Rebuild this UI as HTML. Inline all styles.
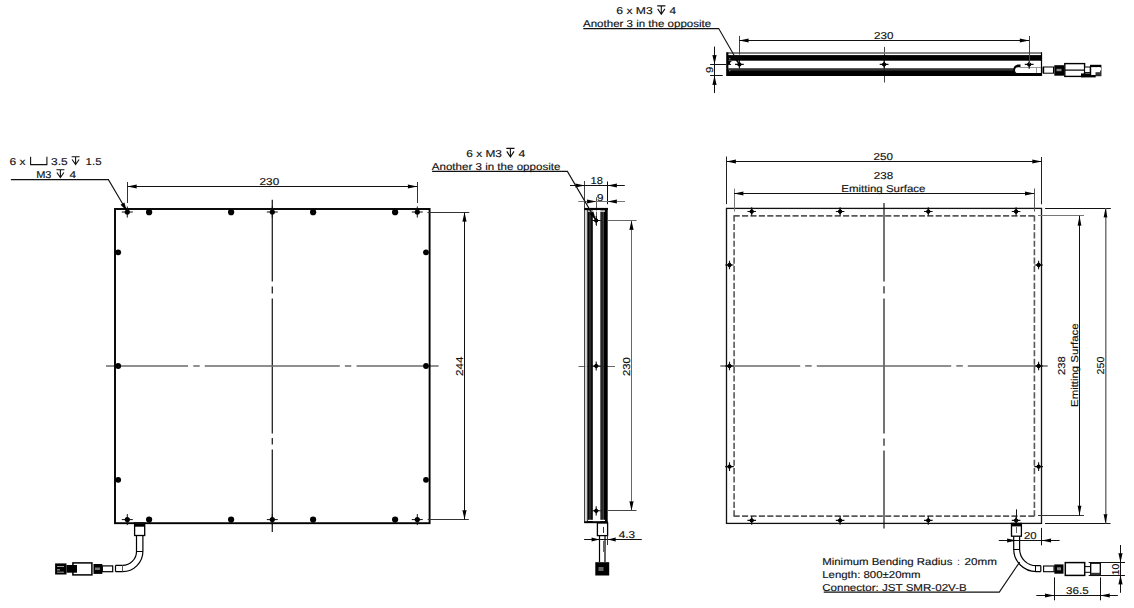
<!DOCTYPE html>
<html><head><meta charset="utf-8"><style>
html,body{margin:0;padding:0;background:#fff;width:1134px;height:608px;overflow:hidden}
svg{display:block}
text{text-rendering:geometricPrecision;font-family:"Liberation Sans",sans-serif;stroke:#111;stroke-width:0.15px}
</style></head><body>
<svg width="1134" height="608" viewBox="0 0 1134 608">
<rect width="1134" height="608" fill="#fff"/>
<line x1="272.3" y1="199.8" x2="272.3" y2="281.4" stroke="#222" stroke-width="1.3" />
<line x1="272.3" y1="286.5" x2="272.3" y2="293.4" stroke="#222" stroke-width="1.3" />
<line x1="272.3" y1="298.6" x2="272.3" y2="433.4" stroke="#222" stroke-width="1.3" />
<line x1="272.3" y1="438.1" x2="272.3" y2="444.5" stroke="#222" stroke-width="1.3" />
<line x1="272.3" y1="449.6" x2="272.3" y2="532" stroke="#222" stroke-width="1.3" />
<line x1="106" y1="366" x2="188.1" y2="366" stroke="#6a6a6a" stroke-width="1.5" />
<line x1="193.3" y1="366" x2="199.7" y2="366" stroke="#6a6a6a" stroke-width="1.5" />
<line x1="204.8" y1="366" x2="339.8" y2="366" stroke="#6a6a6a" stroke-width="1.5" />
<line x1="344.9" y1="366" x2="351.3" y2="366" stroke="#6a6a6a" stroke-width="1.5" />
<line x1="356.5" y1="366" x2="438.6" y2="366" stroke="#6a6a6a" stroke-width="1.5" />
<rect x="115" y="209" width="314.6" height="314.2" fill="none" stroke="#000" stroke-width="1.9" />
<path d="M121.80,212.00 L132.80,212.00 M127.30,206.50 L127.30,217.50" stroke="#111" stroke-width="1.0"/>
<circle cx="127.3" cy="212.0" r="2.6" fill="#000"/>
<path d="M121.80,519.60 L132.80,519.60 M127.30,514.10 L127.30,525.10" stroke="#111" stroke-width="1.0"/>
<circle cx="127.3" cy="519.6" r="2.6" fill="#000"/>
<path d="M266.80,212.00 L277.80,212.00 M272.30,206.50 L272.30,217.50" stroke="#111" stroke-width="1.0"/>
<circle cx="272.3" cy="212.0" r="2.6" fill="#000"/>
<path d="M266.80,519.60 L277.80,519.60 M272.30,514.10 L272.30,525.10" stroke="#111" stroke-width="1.0"/>
<circle cx="272.3" cy="519.6" r="2.6" fill="#000"/>
<path d="M411.80,212.00 L422.80,212.00 M417.30,206.50 L417.30,217.50" stroke="#111" stroke-width="1.0"/>
<circle cx="417.3" cy="212.0" r="2.6" fill="#000"/>
<path d="M411.80,519.60 L422.80,519.60 M417.30,514.10 L417.30,525.10" stroke="#111" stroke-width="1.0"/>
<circle cx="417.3" cy="519.6" r="2.6" fill="#000"/>
<circle cx="149.1" cy="212.2" r="3.1" fill="#000"/>
<circle cx="149.1" cy="212.2" r="0.4" fill="#fff" opacity="0.25"/>
<circle cx="149.1" cy="519.6" r="3.1" fill="#000"/>
<circle cx="231.1" cy="212.2" r="3.1" fill="#000"/>
<circle cx="231.1" cy="212.2" r="0.4" fill="#fff" opacity="0.25"/>
<circle cx="231.1" cy="519.6" r="3.1" fill="#000"/>
<circle cx="313.1" cy="212.2" r="3.1" fill="#000"/>
<circle cx="313.1" cy="212.2" r="0.4" fill="#fff" opacity="0.25"/>
<circle cx="313.1" cy="519.6" r="3.1" fill="#000"/>
<circle cx="395.1" cy="212.2" r="3.1" fill="#000"/>
<circle cx="395.1" cy="212.2" r="0.4" fill="#fff" opacity="0.25"/>
<circle cx="395.1" cy="519.6" r="3.1" fill="#000"/>
<circle cx="118.2" cy="252.3" r="2.9" fill="#000"/>
<circle cx="118.2" cy="252.3" r="0.4" fill="#fff" opacity="0.25"/>
<circle cx="426" cy="252.3" r="2.9" fill="#000"/>
<circle cx="426" cy="252.3" r="0.4" fill="#fff" opacity="0.25"/>
<circle cx="118.2" cy="366" r="2.9" fill="#000"/>
<circle cx="118.2" cy="366" r="0.4" fill="#fff" opacity="0.25"/>
<circle cx="426" cy="366" r="2.9" fill="#000"/>
<circle cx="426" cy="366" r="0.4" fill="#fff" opacity="0.25"/>
<circle cx="118.2" cy="479.8" r="2.9" fill="#000"/>
<circle cx="118.2" cy="479.8" r="0.4" fill="#fff" opacity="0.25"/>
<circle cx="426" cy="479.8" r="2.9" fill="#000"/>
<circle cx="426" cy="479.8" r="0.4" fill="#fff" opacity="0.25"/>
<line x1="127.5" y1="182" x2="127.5" y2="203" stroke="#333" stroke-width="1.0" />
<line x1="417.5" y1="182" x2="417.5" y2="203" stroke="#333" stroke-width="1.0" />
<line x1="127.3" y1="186.5" x2="417.3" y2="186.5" stroke="#111" stroke-width="1.0" />
<path d="M127.30,186.50 L136.80,184.40 L136.51,186.50 L136.80,188.60Z" fill="#000"/>
<path d="M417.30,186.50 L407.80,184.40 L408.09,186.50 L407.80,188.60Z" fill="#000"/>
<text x="259.6" y="185.1" font-size="10.0" text-anchor="start" fill="#111" textLength="19.6" lengthAdjust="spacingAndGlyphs">230</text>
<line x1="427.5" y1="212.5" x2="469.3" y2="212.5" stroke="#333" stroke-width="1.0" />
<line x1="427.7" y1="519.5" x2="468.8" y2="519.5" stroke="#333" stroke-width="1.0" />
<line x1="464.5" y1="212.3" x2="464.5" y2="519.6" stroke="#111" stroke-width="1.0" />
<path d="M464.50,212.30 L462.40,221.80 L464.50,221.52 L466.60,221.80Z" fill="#000"/>
<path d="M464.50,519.60 L462.40,510.10 L464.50,510.39 L466.60,510.10Z" fill="#000"/>
<text x="463.0" y="366.3" font-size="10.0" text-anchor="middle" fill="#111" textLength="19.4" lengthAdjust="spacingAndGlyphs" transform="rotate(-90 463.0 366.3)">244</text>
<path d="M10.9,179.6 L108.4,179.6 L126.3,210" stroke="#111" stroke-width="1.1" fill="none"/>
<path d="M127.00,211.30 L120.55,204.65 L124.34,202.42 Z" fill="#000"/>
<text x="9.6" y="164.8" font-size="10.0" text-anchor="start" fill="#111" textLength="16.0" lengthAdjust="spacingAndGlyphs">6 x</text>
<path d="M30.6,156.7 L30.6,164.6 L46.9,164.6 L46.9,156.7" stroke="#111" stroke-width="1.1" fill="none"/>
<text x="51.0" y="164.8" font-size="10.0" text-anchor="start" fill="#111" textLength="16.6" lengthAdjust="spacingAndGlyphs">3.5</text>
<path d="M71.6,156.8 L79.6,156.8 M75.6,156.8 L75.6,164.60000000000002 M72.1,159.53 L75.6,164.60000000000002 L79.1,159.53" stroke="#111" stroke-width="1.1" fill="none"/>
<text x="85.6" y="164.8" font-size="10.0" text-anchor="start" fill="#111" textLength="16.0" lengthAdjust="spacingAndGlyphs">1.5</text>
<text x="36.2" y="177.7" font-size="10.0" text-anchor="start" fill="#111" textLength="15.3" lengthAdjust="spacingAndGlyphs">M3</text>
<path d="M56.4,169.8 L64.4,169.8 M60.4,169.8 L60.4,177.60000000000002 M56.9,172.53 L60.4,177.60000000000002 L63.900000000000006,172.53" stroke="#111" stroke-width="1.1" fill="none"/>
<text x="69.6" y="177.7" font-size="10.0" text-anchor="start" fill="#111" textLength="6.6" lengthAdjust="spacingAndGlyphs">4</text>
<rect x="134.6" y="523" width="10.1" height="12.5" fill="#fff" stroke="#000" stroke-width="1.3" />
<rect x="134.6" y="523.2" width="10.1" height="3.5" fill="#000" stroke="none" stroke-width="0" />
<path d="M136.5,535.5 L136.5,551 A14,14 0 0 1 122.5,565.4 L115.5,565.4 M142.9,535.5 L142.9,551 A20.4,20.4 0 0 1 122.5,571.6 L115.5,571.6" stroke="#000" stroke-width="1.2" fill="none"/>
<line x1="136.5" y1="551.5" x2="142.9" y2="551.5" stroke="#000" stroke-width="1.0" />
<line x1="122.5" y1="565.4" x2="122.5" y2="571.6" stroke="#555" stroke-width="1.0" />
<line x1="115.5" y1="565.4" x2="115.5" y2="571.6" stroke="#000" stroke-width="1.2" />
<rect x="102.3" y="565.9" width="10.4" height="5.8" fill="#fff" stroke="#000" stroke-width="1.2" />
<rect x="93.5" y="564" width="8.8" height="9.9" fill="#000" stroke="none" stroke-width="0" />
<rect x="95" y="567.5" width="5" height="2.5" fill="#777"/>
<rect x="72.9" y="562.9" width="19" height="12" fill="#fff" stroke="#000" stroke-width="1.5" />
<rect x="55.1" y="563.4" width="11.4" height="11.1" fill="#000" stroke="none" stroke-width="0" />
<rect x="66.5" y="565" width="10.5" height="7.7" fill="#000" stroke="none" stroke-width="0" />
<rect x="57" y="566" width="7" height="1" fill="#999"/><rect x="57" y="569" width="3" height="1.5" fill="#777"/><rect x="57" y="571.5" width="7" height="1.5" fill="#666"/>
<line x1="578.5" y1="366.5" x2="615" y2="366.5" stroke="#666" stroke-width="1.0" />
<line x1="596.5" y1="197.3" x2="596.5" y2="226" stroke="#555" stroke-width="1.0" />
<line x1="584.5" y1="208" x2="584.5" y2="523" stroke="#444" stroke-width="1.0" />
<rect x="585.3" y="210" width="2" height="311" fill="#ccc"/>
<rect x="584.3" y="207.9" width="23.6" height="2.2" fill="#000" stroke="none" stroke-width="0" />
<rect x="587.3" y="210" width="5.5" height="312" fill="#000" stroke="none" stroke-width="0" />
<rect x="588.8" y="212" width="2.5" height="308" fill="#2a2a2a"/>
<rect x="600.3" y="210" width="3.3" height="312" fill="#262626" stroke="none" stroke-width="0" />
<rect x="603.5" y="208" width="4.2" height="315" fill="#000" stroke="none" stroke-width="0" />
<rect x="584.3" y="521.2" width="23.4" height="2.0" fill="#000" stroke="none" stroke-width="0" />
<rect x="588" y="210.5" width="17" height="1.2" fill="#fff"/>
<rect x="588" y="519.8" width="17" height="1.2" fill="#fff"/>
<path d="M591.60,220.50 L600.80,220.50 M596.20,215.90 L596.20,225.10" stroke="#111" stroke-width="1.1"/>
<path d="M593.60,220.50 L596.20,217.90 L598.80,220.50 L596.20,223.10 Z" fill="#000"/>
<circle cx="596.2" cy="220.5" r="1.90" fill="#000"/>
<path d="M591.60,366.00 L600.80,366.00 M596.20,361.40 L596.20,370.60" stroke="#111" stroke-width="1.1"/>
<path d="M593.60,366.00 L596.20,363.40 L598.80,366.00 L596.20,368.60 Z" fill="#000"/>
<circle cx="596.2" cy="366" r="1.90" fill="#000"/>
<path d="M591.60,510.80 L600.80,510.80 M596.20,506.20 L596.20,515.40" stroke="#111" stroke-width="1.1"/>
<path d="M593.60,510.80 L596.20,508.20 L598.80,510.80 L596.20,513.40 Z" fill="#000"/>
<circle cx="596.2" cy="510.8" r="1.90" fill="#000"/>
<line x1="584.5" y1="181" x2="584.5" y2="208" stroke="#444" stroke-width="1.0" />
<line x1="607.5" y1="181.5" x2="607.5" y2="204.2" stroke="#111" stroke-width="1.0" />
<line x1="570" y1="185.5" x2="624.8" y2="185.5" stroke="#111" stroke-width="1.0" />
<path d="M584.80,185.50 L575.30,183.40 L575.58,185.50 L575.30,187.60Z" fill="#000"/>
<path d="M607.50,185.50 L617.00,183.40 L616.72,185.50 L617.00,187.60Z" fill="#000"/>
<text x="590.6" y="183.8" font-size="10.0" text-anchor="start" fill="#111" textLength="12.4" lengthAdjust="spacingAndGlyphs">18</text>
<line x1="578.2" y1="201.5" x2="625" y2="201.5" stroke="#777" stroke-width="1.0" />
<path d="M596.40,201.50 L586.90,199.40 L587.18,201.50 L586.90,203.60Z" fill="#000"/>
<path d="M607.50,201.50 L617.00,199.40 L616.72,201.50 L617.00,203.60Z" fill="#000"/>
<text x="596.8" y="200.7" font-size="10.0" text-anchor="start" fill="#111" textLength="6.8" lengthAdjust="spacingAndGlyphs">9</text>
<line x1="608" y1="220.5" x2="636.6" y2="220.5" stroke="#666" stroke-width="1.0" />
<line x1="608" y1="510.5" x2="636.5" y2="510.5" stroke="#444" stroke-width="1.0" />
<line x1="631.5" y1="220.5" x2="631.5" y2="510.8" stroke="#666" stroke-width="1.0" />
<path d="M631.50,220.50 L629.40,230.00 L631.50,229.72 L633.60,230.00Z" fill="#000"/>
<path d="M631.50,510.80 L629.40,501.30 L631.50,501.59 L633.60,501.30Z" fill="#000"/>
<text x="630.3" y="366.7" font-size="10.0" text-anchor="middle" fill="#111" textLength="18.8" lengthAdjust="spacingAndGlyphs" transform="rotate(-90 630.3 366.7)">230</text>
<path d="M432.1,171.4 L567.4,171.4 L595.6,219.6" stroke="#111" stroke-width="1.1" fill="none"/>
<path d="M596.00,220.30 L589.56,213.64 L593.36,211.42 Z" fill="#000"/>
<text x="466.3" y="157" font-size="10.0" text-anchor="start" fill="#111" textLength="35.6" lengthAdjust="spacingAndGlyphs">6 x M3</text>
<path d="M506.3,148.4 L514.5,148.4 M510.40000000000003,148.4 L510.40000000000003,157.0 M506.8,151.41 L510.40000000000003,157.0 L514.0,151.41" stroke="#111" stroke-width="1.1" fill="none"/>
<text x="518.4" y="157" font-size="10.0" text-anchor="start" fill="#111" textLength="6.8" lengthAdjust="spacingAndGlyphs">4</text>
<text x="431.8" y="170.2" font-size="10.0" text-anchor="start" fill="#111" textLength="128.6" lengthAdjust="spacingAndGlyphs">Another 3 in the opposite</text>
<rect x="597.4" y="523" width="10.2" height="12.6" fill="#fff" stroke="#000" stroke-width="1.3" />
<line x1="603.5" y1="527" x2="603.5" y2="533" stroke="#333" stroke-width="1.0" />
<line x1="599.5" y1="535.6" x2="599.5" y2="562" stroke="#000" stroke-width="1.2" />
<line x1="605" y1="535.6" x2="605" y2="562" stroke="#000" stroke-width="1.2" />
<line x1="603.5" y1="541" x2="603.5" y2="552" stroke="#666" stroke-width="1.0" />
<rect x="595.3" y="562.2" width="13.9" height="13.3" fill="#000" stroke="none" stroke-width="0" />
<rect x="598.5" y="567" width="5" height="4" fill="#666"/>
<line x1="584.1" y1="539.5" x2="641.8" y2="539.5" stroke="#111" stroke-width="1.0" />
<path d="M599.50,539.50 L591.50,537.40 L591.74,539.50 L591.50,541.60Z" fill="#000"/>
<path d="M607.80,539.50 L615.80,537.40 L615.56,539.50 L615.80,541.60Z" fill="#000"/>
<line x1="607.5" y1="535.6" x2="607.5" y2="545" stroke="#333" stroke-width="1.0" />
<text x="618.7" y="537.7" font-size="10.0" text-anchor="start" fill="#111" textLength="16.4" lengthAdjust="spacingAndGlyphs">4.3</text>
<line x1="884.5" y1="46.9" x2="884.5" y2="82.5" stroke="#444" stroke-width="1.0" />
<rect x="728" y="52.1" width="313" height="1.8" fill="#7a7a7a" stroke="none" stroke-width="0" />
<rect x="728" y="55.1" width="313" height="5.6" fill="#000" stroke="none" stroke-width="0" />
<rect x="726.2" y="52.2" width="2.2" height="23.8" fill="#000" stroke="none" stroke-width="0" />
<rect x="1040.9" y="52.2" width="1.2" height="23.6" fill="#000" stroke="none" stroke-width="0" />
<rect x="728" y="68.2" width="286" height="2.2" fill="#333" stroke="none" stroke-width="0" />
<rect x="728" y="70.2" width="286" height="5.8" fill="#000" stroke="none" stroke-width="0" />
<rect x="1014" y="73" width="27.5" height="3" fill="#000" stroke="none" stroke-width="0" />
<path d="M1018,64.6 A5.8,5.8 0 0 0 1018,76 L1018,73.1 A2.95,2.95 0 0 1 1018,67.2 L1020.5,67.2 L1020.5,64.6 Z" fill="#000"/>
<line x1="1020" y1="67.5" x2="1041" y2="67.5" stroke="#999" stroke-width="1.0" />
<line x1="1036.5" y1="68" x2="1036.5" y2="73" stroke="#999" stroke-width="1.0" />
<rect x="729" y="58" width="1.4" height="1.4" fill="#777"/><rect x="729" y="70" width="1.4" height="1.4" fill="#777"/><path d="M728,61 L733,61 A3,3 0 0 0 730,64 L728,64 Z" fill="#000"/><rect x="728" y="64" width="3" height="0.9" fill="#000"/>
<path d="M735.00,64.40 L743.80,64.40 M739.40,60.00 L739.40,68.80" stroke="#111" stroke-width="1.1"/>
<path d="M736.80,64.40 L739.40,61.80 L742.00,64.40 L739.40,67.00 Z" fill="#000"/>
<circle cx="739.4" cy="64.4" r="1.90" fill="#000"/>
<path d="M879.70,64.40 L888.50,64.40 M884.10,60.00 L884.10,68.80" stroke="#111" stroke-width="1.1"/>
<path d="M881.50,64.40 L884.10,61.80 L886.70,64.40 L884.10,67.00 Z" fill="#000"/>
<circle cx="884.1" cy="64.4" r="1.90" fill="#000"/>
<path d="M1024.80,64.40 L1033.60,64.40 M1029.20,60.00 L1029.20,68.80" stroke="#111" stroke-width="1.1"/>
<path d="M1026.60,64.40 L1029.20,61.80 L1031.80,64.40 L1029.20,67.00 Z" fill="#000"/>
<circle cx="1029.2" cy="64.4" r="1.90" fill="#000"/>
<line x1="739.5" y1="35.9" x2="739.5" y2="54.6" stroke="#444" stroke-width="1.0" />
<line x1="1029.5" y1="36" x2="1029.5" y2="64" stroke="#444" stroke-width="1.0" />
<line x1="739.2" y1="40.5" x2="1029.2" y2="40.5" stroke="#111" stroke-width="1.0" />
<path d="M739.20,40.50 L748.70,38.40 L748.42,40.50 L748.70,42.60Z" fill="#000"/>
<path d="M1029.20,40.50 L1019.70,38.40 L1019.99,40.50 L1019.70,42.60Z" fill="#000"/>
<text x="874.1" y="39" font-size="10.0" text-anchor="start" fill="#111" textLength="19.4" lengthAdjust="spacingAndGlyphs">230</text>
<line x1="710.1" y1="64.5" x2="726" y2="64.5" stroke="#111" stroke-width="1.0" />
<line x1="710.1" y1="75.5" x2="722.7" y2="75.5" stroke="#111" stroke-width="1.0" />
<line x1="714.5" y1="46.6" x2="714.5" y2="93.1" stroke="#111" stroke-width="1.0" />
<path d="M714.50,64.40 L712.40,54.90 L714.50,55.19 L716.60,54.90Z" fill="#000"/>
<path d="M714.50,75.50 L712.40,85.00 L714.50,84.72 L716.60,85.00Z" fill="#000"/>
<text x="713.4" y="69.8" font-size="10.0" text-anchor="middle" fill="#111" textLength="6.4" lengthAdjust="spacingAndGlyphs" transform="rotate(-90 713.4 69.8)">9</text>
<path d="M583.3,28.6 L718.7,28.6 L738.8,63.6" stroke="#111" stroke-width="1.1" fill="none"/>
<path d="M739.20,64.30 L732.81,57.59 L736.63,55.40 Z" fill="#000"/>
<text x="616.3" y="14.3" font-size="10.0" text-anchor="start" fill="#111" textLength="36.4" lengthAdjust="spacingAndGlyphs">6 x M3</text>
<path d="M657.2,5.9 L665.4000000000001,5.9 M661.3000000000001,5.9 L661.3000000000001,14.3 M657.7,8.84 L661.3000000000001,14.3 L664.9000000000001,8.84" stroke="#111" stroke-width="1.1" fill="none"/>
<text x="669.6" y="14.3" font-size="10.0" text-anchor="start" fill="#111" textLength="6.6" lengthAdjust="spacingAndGlyphs">4</text>
<text x="583.0" y="27" font-size="10.0" text-anchor="start" fill="#111" textLength="128.2" lengthAdjust="spacingAndGlyphs">Another 3 in the opposite</text>
<rect x="1043.3" y="67" width="10.2" height="6.2" fill="#fff" stroke="#000" stroke-width="1.0" />
<rect x="1042.6" y="66.8" width="1.6" height="6.6" rx="0.8" fill="#000"/>
<rect x="1054.3" y="65.2" width="9.7" height="10.5" fill="#000" stroke="none" stroke-width="0" />
<rect x="1056.5" y="68.8" width="5" height="2.4" fill="#888"/>
<rect x="1064.8" y="63.6" width="19.8" height="12.8" fill="#fff" stroke="#000" stroke-width="1.4" />
<line x1="1064.8" y1="70.1" x2="1084.5" y2="70.1" stroke="#000" stroke-width="1.2" />
<rect x="1084.6" y="67" width="5.6" height="5.6" fill="#fff" stroke="#000" stroke-width="1.0" />
<rect x="1081" y="73.4" width="14.7" height="4.0" fill="#000" stroke="none" stroke-width="0" />
<rect x="1090.6" y="65.4" width="10.2" height="10.2" fill="#fff" stroke="#000" stroke-width="1.2" />
<rect x="1090.6" y="65.2" width="10.4" height="1.9" fill="#000" stroke="none" stroke-width="0" />
<rect x="1095.5" y="72.2" width="5.5" height="3.6" fill="#333" stroke="none" stroke-width="0" />
<rect x="1097.5" y="67.5" width="3.5" height="3" fill="#fff"/>
<path d="M1041.3,55.5 L1041.3,61 M1035,58.2 L1041.5,58.2" stroke="#000" stroke-width="1.5"/>
<line x1="884.0" y1="203" x2="884.0" y2="281.4" stroke="#383838" stroke-width="1.4" />
<line x1="884.0" y1="286.3" x2="884.0" y2="293.4" stroke="#383838" stroke-width="1.4" />
<line x1="884.0" y1="298.4" x2="884.0" y2="433.6" stroke="#383838" stroke-width="1.4" />
<line x1="884.0" y1="438.6" x2="884.0" y2="445.7" stroke="#383838" stroke-width="1.4" />
<line x1="884.0" y1="450.6" x2="884.0" y2="528.6" stroke="#383838" stroke-width="1.4" />
<line x1="720.3" y1="365.9" x2="800.2" y2="365.9" stroke="#6a6a6a" stroke-width="1.5" />
<line x1="805.2" y1="365.9" x2="811.7" y2="365.9" stroke="#6a6a6a" stroke-width="1.5" />
<line x1="816.8" y1="365.9" x2="951.2" y2="365.9" stroke="#6a6a6a" stroke-width="1.5" />
<line x1="956.3" y1="365.9" x2="962.8" y2="365.9" stroke="#6a6a6a" stroke-width="1.5" />
<line x1="967.8" y1="365.9" x2="1047.7" y2="365.9" stroke="#6a6a6a" stroke-width="1.5" />
<rect x="726.5" y="208.4" width="315" height="315" fill="none" stroke="#111" stroke-width="1.3" />
<line x1="733.6" y1="215.9" x2="1035.2" y2="215.9" stroke="#585858" stroke-width="1.6" stroke-dasharray="6.1 2.32"/>
<line x1="1034.4" y1="215.5" x2="1034.4" y2="516.8" stroke="#585858" stroke-width="1.6" stroke-dasharray="6.1 2.32"/>
<line x1="733.6" y1="516.1" x2="1035.2" y2="516.1" stroke="#585858" stroke-width="1.6" stroke-dasharray="6.1 2.32"/>
<line x1="734.1" y1="215.5" x2="734.1" y2="516.8" stroke="#585858" stroke-width="1.6" stroke-dasharray="6.1 2.32"/>
<path d="M747.40,211.50 L756.00,211.50 M751.70,207.20 L751.70,215.80" stroke="#111" stroke-width="1.1"/>
<path d="M749.04,211.50 L751.70,208.84 L754.37,211.50 L751.70,214.16 Z" fill="#000"/>
<circle cx="751.7" cy="211.5" r="1.95" fill="#000"/>
<path d="M747.40,520.40 L756.00,520.40 M751.70,516.10 L751.70,524.70" stroke="#111" stroke-width="1.1"/>
<path d="M749.04,520.40 L751.70,517.74 L754.37,520.40 L751.70,523.06 Z" fill="#000"/>
<circle cx="751.7" cy="520.4" r="1.95" fill="#000"/>
<path d="M835.80,211.50 L844.40,211.50 M840.10,207.20 L840.10,215.80" stroke="#111" stroke-width="1.1"/>
<path d="M837.44,211.50 L840.10,208.84 L842.76,211.50 L840.10,214.16 Z" fill="#000"/>
<circle cx="840.1" cy="211.5" r="1.95" fill="#000"/>
<path d="M835.80,520.40 L844.40,520.40 M840.10,516.10 L840.10,524.70" stroke="#111" stroke-width="1.1"/>
<path d="M837.44,520.40 L840.10,517.74 L842.76,520.40 L840.10,523.06 Z" fill="#000"/>
<circle cx="840.1" cy="520.4" r="1.95" fill="#000"/>
<path d="M924.00,211.50 L932.60,211.50 M928.30,207.20 L928.30,215.80" stroke="#111" stroke-width="1.1"/>
<path d="M925.63,211.50 L928.30,208.84 L930.96,211.50 L928.30,214.16 Z" fill="#000"/>
<circle cx="928.3" cy="211.5" r="1.95" fill="#000"/>
<path d="M924.00,520.40 L932.60,520.40 M928.30,516.10 L928.30,524.70" stroke="#111" stroke-width="1.1"/>
<path d="M925.63,520.40 L928.30,517.74 L930.96,520.40 L928.30,523.06 Z" fill="#000"/>
<circle cx="928.3" cy="520.4" r="1.95" fill="#000"/>
<path d="M1011.80,211.50 L1020.40,211.50 M1016.10,207.20 L1016.10,215.80" stroke="#111" stroke-width="1.1"/>
<path d="M1013.44,211.50 L1016.10,208.84 L1018.76,211.50 L1016.10,214.16 Z" fill="#000"/>
<circle cx="1016.1" cy="211.5" r="1.95" fill="#000"/>
<path d="M1011.80,520.40 L1020.40,520.40 M1016.10,516.10 L1016.10,524.70" stroke="#111" stroke-width="1.1"/>
<path d="M1013.44,520.40 L1016.10,517.74 L1018.76,520.40 L1016.10,523.06 Z" fill="#000"/>
<circle cx="1016.1" cy="520.4" r="1.95" fill="#000"/>
<path d="M725.20,265.00 L733.80,265.00 M729.50,260.70 L729.50,269.30" stroke="#111" stroke-width="1.1"/>
<path d="M726.84,265.00 L729.50,262.33 L732.16,265.00 L729.50,267.67 Z" fill="#000"/>
<circle cx="729.5" cy="265" r="1.95" fill="#000"/>
<path d="M1034.30,265.00 L1042.90,265.00 M1038.60,260.70 L1038.60,269.30" stroke="#111" stroke-width="1.1"/>
<path d="M1035.93,265.00 L1038.60,262.33 L1041.26,265.00 L1038.60,267.67 Z" fill="#000"/>
<circle cx="1038.6" cy="265" r="1.95" fill="#000"/>
<path d="M725.20,366.00 L733.80,366.00 M729.50,361.70 L729.50,370.30" stroke="#111" stroke-width="1.1"/>
<path d="M726.84,366.00 L729.50,363.33 L732.16,366.00 L729.50,368.67 Z" fill="#000"/>
<circle cx="729.5" cy="366" r="1.95" fill="#000"/>
<path d="M1034.30,366.00 L1042.90,366.00 M1038.60,361.70 L1038.60,370.30" stroke="#111" stroke-width="1.1"/>
<path d="M1035.93,366.00 L1038.60,363.33 L1041.26,366.00 L1038.60,368.67 Z" fill="#000"/>
<circle cx="1038.6" cy="366" r="1.95" fill="#000"/>
<path d="M725.20,466.60 L733.80,466.60 M729.50,462.30 L729.50,470.90" stroke="#111" stroke-width="1.1"/>
<path d="M726.84,466.60 L729.50,463.94 L732.16,466.60 L729.50,469.27 Z" fill="#000"/>
<circle cx="729.5" cy="466.6" r="1.95" fill="#000"/>
<path d="M1034.30,466.60 L1042.90,466.60 M1038.60,462.30 L1038.60,470.90" stroke="#111" stroke-width="1.1"/>
<path d="M1035.93,466.60 L1038.60,463.94 L1041.26,466.60 L1038.60,469.27 Z" fill="#000"/>
<circle cx="1038.6" cy="466.6" r="1.95" fill="#000"/>
<line x1="726.5" y1="156.5" x2="726.5" y2="204.2" stroke="#222" stroke-width="1.0" />
<line x1="1041.5" y1="157" x2="1041.5" y2="204.3" stroke="#222" stroke-width="1.0" />
<line x1="726.5" y1="161.5" x2="1041.7" y2="161.5" stroke="#111" stroke-width="1.0" />
<path d="M726.50,161.50 L736.00,159.40 L735.72,161.50 L736.00,163.60Z" fill="#000"/>
<path d="M1041.70,161.50 L1032.20,159.40 L1032.49,161.50 L1032.20,163.60Z" fill="#000"/>
<text x="873.6" y="160" font-size="10.0" text-anchor="start" fill="#111" textLength="19.4" lengthAdjust="spacingAndGlyphs">250</text>
<line x1="734.5" y1="188.6" x2="734.5" y2="211.5" stroke="#777" stroke-width="1.0" />
<line x1="1034.5" y1="188.5" x2="1034.5" y2="211.6" stroke="#555" stroke-width="1.0" />
<line x1="734" y1="193.5" x2="1034.4" y2="193.5" stroke="#111" stroke-width="1.0" />
<path d="M734.00,193.50 L743.50,191.40 L743.22,193.50 L743.50,195.60Z" fill="#000"/>
<path d="M1034.40,193.50 L1024.90,191.40 L1025.19,193.50 L1024.90,195.60Z" fill="#000"/>
<text x="873.8" y="178.8" font-size="10.0" text-anchor="start" fill="#111" textLength="19.4" lengthAdjust="spacingAndGlyphs">238</text>
<text x="841.3" y="192" font-size="10.0" text-anchor="start" fill="#111" textLength="84.2" lengthAdjust="spacingAndGlyphs">Emitting Surface</text>
<line x1="1038" y1="215.5" x2="1084" y2="215.5" stroke="#777" stroke-width="1.0" />
<line x1="1038" y1="515.5" x2="1083.9" y2="515.5" stroke="#333" stroke-width="1.0" />
<line x1="1079.5" y1="215.8" x2="1079.5" y2="515.6" stroke="#111" stroke-width="1.0" />
<path d="M1079.50,215.80 L1077.60,225.80 L1079.50,225.50 L1081.40,225.80Z" fill="#000"/>
<path d="M1079.50,515.60 L1077.60,505.60 L1079.50,505.90 L1081.40,505.60Z" fill="#000"/>
<text x="1065.3" y="365.5" font-size="10.0" text-anchor="middle" fill="#111" textLength="18.8" lengthAdjust="spacingAndGlyphs" transform="rotate(-90 1065.3 365.5)">238</text>
<text x="1078.5" y="365.2" font-size="10.0" text-anchor="middle" fill="#111" textLength="83.4" lengthAdjust="spacingAndGlyphs" transform="rotate(-90 1078.5 365.2)">Emitting Surface</text>
<line x1="1045.1" y1="208.5" x2="1110.8" y2="208.5" stroke="#111" stroke-width="1.0" />
<line x1="1045" y1="523.5" x2="1110.5" y2="523.5" stroke="#111" stroke-width="1.0" />
<line x1="1105.8" y1="208.3" x2="1105.8" y2="523.4" stroke="#6a6a6a" stroke-width="1.4" />
<path d="M1105.50,208.30 L1103.60,217.60 L1105.50,217.32 L1107.40,217.60Z" fill="#000"/>
<path d="M1105.50,523.40 L1103.60,514.10 L1105.50,514.38 L1107.40,514.10Z" fill="#000"/>
<text x="1104.3" y="365.5" font-size="10.0" text-anchor="middle" fill="#111" textLength="17.8" lengthAdjust="spacingAndGlyphs" transform="rotate(-90 1104.3 365.5)">250</text>
<line x1="1016.5" y1="509.4" x2="1016.5" y2="525" stroke="#111" stroke-width="1.0" />
<rect x="1011.5" y="523.4" width="9.9" height="12.8" fill="#fff" stroke="#000" stroke-width="1.3" />
<rect x="1011.5" y="523.4" width="9.9" height="3" fill="#000" stroke="none" stroke-width="0" />
<line x1="1016.5" y1="527" x2="1016.5" y2="533" stroke="#666" stroke-width="1.0" />
<path d="M1013.7,536.2 L1013.7,549 A22.6,22.6 0 0 0 1036.3,571.6 L1040.8,571.6 M1019.6,536.2 L1019.6,549 A16.7,16.7 0 0 0 1036.3,565.7 L1040.8,565.7" stroke="#000" stroke-width="1.2" fill="none"/>
<line x1="1013.7" y1="549.5" x2="1019.6" y2="549.5" stroke="#000" stroke-width="1.0" />
<line x1="1035.5" y1="565.7" x2="1035.5" y2="571.6" stroke="#000" stroke-width="1.0" />
<line x1="1040.8" y1="565.7" x2="1040.8" y2="571.6" stroke="#000" stroke-width="1.2" />
<rect x="1043.6" y="566" width="10.4" height="5.7" fill="#fff" stroke="#000" stroke-width="1.1" />
<rect x="1054.3" y="564.4" width="9.2" height="9.3" fill="#000" stroke="none" stroke-width="0" />
<rect x="1057" y="567.3" width="4" height="3" fill="#888"/>
<rect x="1065.3" y="562.6" width="19.4" height="12.8" fill="#fff" stroke="#000" stroke-width="1.5" />
<rect x="1084.9" y="566.6" width="5.6" height="5.7" fill="#fff" stroke="#000" stroke-width="1.0" />
<rect x="1090.7" y="563.2" width="9.6" height="12.2" fill="#fff" stroke="#000" stroke-width="1.3" />
<rect x="1090.7" y="572.8" width="9.6" height="2.6" fill="#333" stroke="none" stroke-width="0" />
<line x1="1041.5" y1="527.9" x2="1041.5" y2="545.3" stroke="#111" stroke-width="1.0" />
<line x1="998.8" y1="540.5" x2="1059.6" y2="540.5" stroke="#111" stroke-width="1.0" />
<path d="M1016.50,540.50 L1007.00,538.40 L1007.28,540.50 L1007.00,542.60Z" fill="#000"/>
<path d="M1041.70,540.50 L1051.20,538.40 L1050.91,540.50 L1051.20,542.60Z" fill="#000"/>
<text x="1024.0" y="538.5" font-size="10.0" text-anchor="start" fill="#111" textLength="12.6" lengthAdjust="spacingAndGlyphs">20</text>
<line x1="1088.7" y1="562.5" x2="1125" y2="562.5" stroke="#111" stroke-width="1.0" />
<line x1="1088.7" y1="575.5" x2="1125" y2="575.5" stroke="#111" stroke-width="1.0" />
<line x1="1120.5" y1="545" x2="1120.5" y2="592.8" stroke="#111" stroke-width="1.0" />
<path d="M1120.50,562.60 L1118.40,553.10 L1120.50,553.38 L1122.60,553.10Z" fill="#000"/>
<path d="M1120.50,575.10 L1118.40,584.60 L1120.50,584.32 L1122.60,584.60Z" fill="#000"/>
<text x="1118.7" y="569.4" font-size="10.0" text-anchor="middle" fill="#111" textLength="11.6" lengthAdjust="spacingAndGlyphs" transform="rotate(-90 1118.7 569.4)">10</text>
<line x1="1054.5" y1="577.4" x2="1054.5" y2="600.3" stroke="#111" stroke-width="1.0" />
<line x1="1100.5" y1="577.4" x2="1100.5" y2="600.3" stroke="#111" stroke-width="1.0" />
<line x1="1036.3" y1="595.5" x2="1117.9" y2="595.5" stroke="#111" stroke-width="1.0" />
<path d="M1054.40,595.50 L1044.90,593.40 L1045.19,595.50 L1044.90,597.60Z" fill="#000"/>
<path d="M1100.40,595.50 L1109.90,593.40 L1109.62,595.50 L1109.90,597.60Z" fill="#000"/>
<text x="1066.1" y="593.9" font-size="10.0" text-anchor="start" fill="#111" textLength="22.6" lengthAdjust="spacingAndGlyphs">36.5</text>
<text x="822.2" y="565" font-size="10.0" text-anchor="start" fill="#111" textLength="130.2" lengthAdjust="spacingAndGlyphs">Minimum Bending Radius</text>
<text x="957.2" y="565" font-size="10.0" text-anchor="start" fill="#111" textLength="2.4" lengthAdjust="spacingAndGlyphs">:</text>
<text x="964.5" y="565" font-size="10.0" text-anchor="start" fill="#111" textLength="32.4" lengthAdjust="spacingAndGlyphs">20mm</text>
<text x="822.2" y="578" font-size="10.0" text-anchor="start" fill="#111" textLength="98.4" lengthAdjust="spacingAndGlyphs">Length: 800±20mm</text>
<text x="822.2" y="591.2" font-size="10.0" text-anchor="start" fill="#111" textLength="144.6" lengthAdjust="spacingAndGlyphs">Connector: JST SMR-02V-B</text>
<path d="M823.7,592.1 L999.3,592.1 L1019.7,562.1" stroke="#111" stroke-width="1.1" fill="none"/>
</svg></body></html>
